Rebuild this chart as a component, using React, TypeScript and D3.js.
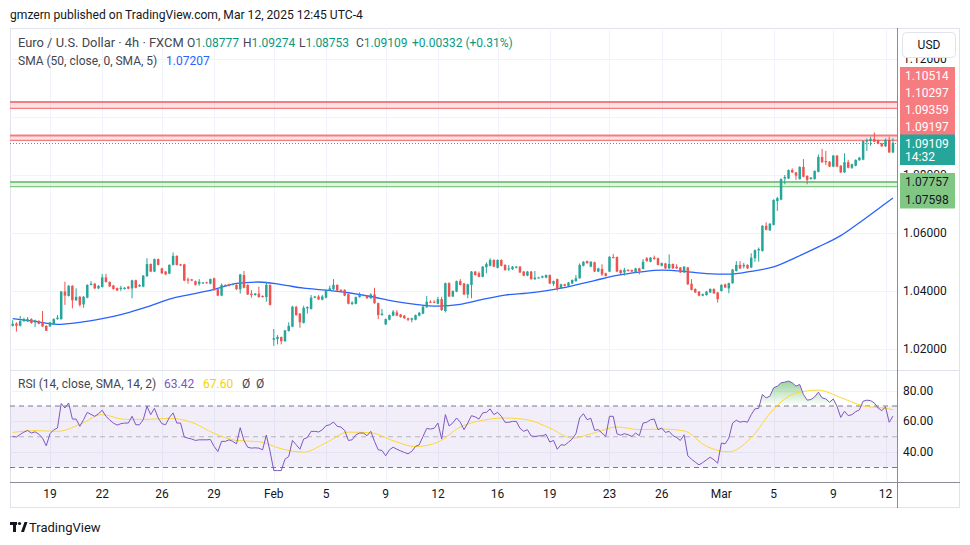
import React from "react";
import * as d3 from "d3";

// ---------- DATA (EUR/USD 4h, FXCM) ----------
// Each bar: [open, high, low, close]; one array per trading week.
const wkJan16 = [
  [1.0280, 1.0299, 1.0278, 1.0287], [1.0288, 1.0292, 1.0260, 1.0280], [1.0280, 1.0314, 1.0278, 1.0296],
  [1.0296, 1.0308, 1.0294, 1.0303], [1.0295, 1.0310, 1.0294, 1.0303], [1.0303, 1.0306, 1.0287, 1.0290],
  [1.0292, 1.0301, 1.0276, 1.0299], [1.0297, 1.0299, 1.0285, 1.0287], [1.0292, 1.0331, 1.0276, 1.0278],
  [1.0280, 1.0282, 1.0262, 1.0263],
];
const wkJan19 = [
  [1.0278, 1.0294, 1.0276, 1.0292], [1.0285, 1.0306, 1.0283, 1.0303], [1.0303, 1.0317, 1.0301, 1.0308],
  [1.0303, 1.0400, 1.0301, 1.0398], [1.0398, 1.0432, 1.0352, 1.0384], [1.0383, 1.0420, 1.0381, 1.0418],
  [1.0418, 1.0420, 1.0340, 1.0368], [1.0368, 1.0409, 1.0366, 1.0380], [1.0380, 1.0383, 1.0346, 1.0352],
  [1.0354, 1.0383, 1.0342, 1.0380], [1.0377, 1.0423, 1.0375, 1.0421], [1.0421, 1.0434, 1.0419, 1.0425],
  [1.0425, 1.0428, 1.0407, 1.0409], [1.0409, 1.0420, 1.0407, 1.0418], [1.0414, 1.0459, 1.0412, 1.0447],
  [1.0447, 1.0459, 1.0429, 1.0431], [1.0431, 1.0433, 1.0414, 1.0416], [1.0419, 1.0421, 1.0405, 1.0407],
  [1.0410, 1.0412, 1.0400, 1.0402], [1.0407, 1.0418, 1.0400, 1.0411], [1.0407, 1.0414, 1.0405, 1.0411],
  [1.0415, 1.0417, 1.0406, 1.0408], [1.0409, 1.0439, 1.0375, 1.0437], [1.0437, 1.0439, 1.0409, 1.0411],
  [1.0416, 1.0423, 1.0414, 1.0421], [1.0415, 1.0455, 1.0413, 1.0453], [1.0451, 1.0513, 1.0449, 1.0493],
  [1.0493, 1.0495, 1.0465, 1.0467], [1.0467, 1.0512, 1.0465, 1.0510], [1.0510, 1.0512, 1.0488, 1.0490],
];
const wkJan26 = [
  [1.0478, 1.0480, 1.0459, 1.0461], [1.0467, 1.0469, 1.0455, 1.0457], [1.0460, 1.0492, 1.0458, 1.0490],
  [1.0490, 1.0533, 1.0488, 1.0521], [1.0521, 1.0523, 1.0488, 1.0490], [1.0492, 1.0494, 1.0486, 1.0488],
  [1.0492, 1.0494, 1.0434, 1.0436], [1.0440, 1.0446, 1.0425, 1.0436], [1.0440, 1.0442, 1.0434, 1.0436],
  [1.0434, 1.0436, 1.0419, 1.0421], [1.0425, 1.0441, 1.0418, 1.0432], [1.0427, 1.0431, 1.0425, 1.0429],
  [1.0430, 1.0432, 1.0426, 1.0428], [1.0425, 1.0443, 1.0423, 1.0441], [1.0444, 1.0446, 1.0401, 1.0403],
  [1.0406, 1.0408, 1.0382, 1.0384], [1.0384, 1.0426, 1.0382, 1.0421], [1.0421, 1.0423, 1.0416, 1.0418],
  [1.0423, 1.0425, 1.0416, 1.0418], [1.0421, 1.0426, 1.0419, 1.0424], [1.0421, 1.0423, 1.0404, 1.0406],
  [1.0406, 1.0459, 1.0391, 1.0457], [1.0455, 1.0469, 1.0409, 1.0411], [1.0421, 1.0423, 1.0386, 1.0388],
  [1.0391, 1.0403, 1.0377, 1.0386], [1.0386, 1.0393, 1.0384, 1.0391], [1.0391, 1.0415, 1.0377, 1.0379],
  [1.0383, 1.0385, 1.0377, 1.0379], [1.0379, 1.0432, 1.0363, 1.0421], [1.0421, 1.0423, 1.0350, 1.0352],
];
const wkFeb02 = [
  [1.0232, 1.0269, 1.0211, 1.0237], [1.0234, 1.0248, 1.0216, 1.0242], [1.0241, 1.0243, 1.0216, 1.0227],
  [1.0227, 1.0266, 1.0225, 1.0264], [1.0262, 1.0292, 1.0260, 1.0280], [1.0277, 1.0349, 1.0275, 1.0346],
  [1.0345, 1.0349, 1.0315, 1.0317], [1.0322, 1.0324, 1.0273, 1.0292], [1.0290, 1.0349, 1.0288, 1.0342],
  [1.0340, 1.0347, 1.0322, 1.0345], [1.0338, 1.0386, 1.0336, 1.0377], [1.0377, 1.0383, 1.0375, 1.0381],
  [1.0381, 1.0386, 1.0369, 1.0371], [1.0370, 1.0386, 1.0368, 1.0381], [1.0377, 1.0405, 1.0375, 1.0403],
  [1.0402, 1.0418, 1.0400, 1.0409], [1.0406, 1.0441, 1.0404, 1.0421], [1.0421, 1.0423, 1.0400, 1.0402],
  [1.0404, 1.0406, 1.0398, 1.0400], [1.0404, 1.0406, 1.0382, 1.0384], [1.0389, 1.0391, 1.0354, 1.0356],
  [1.0355, 1.0365, 1.0352, 1.0360], [1.0356, 1.0381, 1.0354, 1.0379], [1.0379, 1.0395, 1.0377, 1.0386],
  [1.0384, 1.0388, 1.0382, 1.0386], [1.0384, 1.0386, 1.0373, 1.0375], [1.0375, 1.0392, 1.0373, 1.0388],
  [1.0388, 1.0411, 1.0356, 1.0358], [1.0358, 1.0360, 1.0303, 1.0317], [1.0317, 1.0338, 1.0315, 1.0322],
];
const wkFeb09 = [
  [1.0285, 1.0305, 1.0283, 1.0303], [1.0301, 1.0319, 1.0299, 1.0317], [1.0315, 1.0334, 1.0313, 1.0329],
  [1.0326, 1.0334, 1.0313, 1.0315], [1.0319, 1.0321, 1.0308, 1.0310], [1.0315, 1.0317, 1.0304, 1.0306],
  [1.0306, 1.0308, 1.0296, 1.0301], [1.0301, 1.0308, 1.0292, 1.0306], [1.0301, 1.0319, 1.0299, 1.0317],
  [1.0315, 1.0327, 1.0313, 1.0325], [1.0322, 1.0348, 1.0320, 1.0346], [1.0344, 1.0383, 1.0342, 1.0363],
  [1.0363, 1.0368, 1.0358, 1.0360], [1.0363, 1.0368, 1.0358, 1.0360], [1.0356, 1.0380, 1.0354, 1.0372],
  [1.0372, 1.0380, 1.0332, 1.0334], [1.0331, 1.0429, 1.0326, 1.0427], [1.0427, 1.0430, 1.0379, 1.0381],
  [1.0381, 1.0402, 1.0379, 1.0400], [1.0398, 1.0436, 1.0396, 1.0434], [1.0434, 1.0441, 1.0419, 1.0421],
  [1.0426, 1.0428, 1.0386, 1.0388], [1.0388, 1.0425, 1.0375, 1.0423], [1.0421, 1.0469, 1.0375, 1.0467],
  [1.0467, 1.0469, 1.0453, 1.0455], [1.0461, 1.0467, 1.0447, 1.0449], [1.0449, 1.0486, 1.0447, 1.0484],
  [1.0482, 1.0499, 1.0461, 1.0493], [1.0487, 1.0513, 1.0485, 1.0507], [1.0507, 1.0509, 1.0482, 1.0484],
];
const wkFeb16 = [
  [1.0480, 1.0509, 1.0478, 1.0507], [1.0507, 1.0509, 1.0485, 1.0487], [1.0490, 1.0492, 1.0470, 1.0472],
  [1.0475, 1.0490, 1.0469, 1.0478], [1.0475, 1.0486, 1.0473, 1.0484], [1.0480, 1.0486, 1.0478, 1.0484],
  [1.0484, 1.0486, 1.0462, 1.0464], [1.0467, 1.0469, 1.0451, 1.0453], [1.0453, 1.0469, 1.0451, 1.0467],
  [1.0467, 1.0469, 1.0439, 1.0441], [1.0441, 1.0469, 1.0438, 1.0446], [1.0445, 1.0449, 1.0443, 1.0447],
  [1.0446, 1.0453, 1.0444, 1.0451], [1.0446, 1.0457, 1.0444, 1.0455], [1.0455, 1.0457, 1.0424, 1.0426],
  [1.0425, 1.0436, 1.0418, 1.0434], [1.0441, 1.0443, 1.0401, 1.0407], [1.0409, 1.0425, 1.0407, 1.0423],
  [1.0423, 1.0425, 1.0416, 1.0418], [1.0418, 1.0431, 1.0416, 1.0429], [1.0426, 1.0440, 1.0424, 1.0438],
  [1.0434, 1.0455, 1.0432, 1.0444], [1.0444, 1.0495, 1.0442, 1.0490], [1.0487, 1.0503, 1.0485, 1.0501],
  [1.0503, 1.0505, 1.0494, 1.0496], [1.0484, 1.0503, 1.0482, 1.0501], [1.0499, 1.0501, 1.0465, 1.0467],
  [1.0467, 1.0480, 1.0465, 1.0478], [1.0476, 1.0492, 1.0452, 1.0457], [1.0461, 1.0463, 1.0450, 1.0452],
];
const wkFeb23 = [
  [1.0467, 1.0520, 1.0465, 1.0518], [1.0517, 1.0528, 1.0512, 1.0514], [1.0517, 1.0519, 1.0465, 1.0467],
  [1.0472, 1.0474, 1.0459, 1.0461], [1.0464, 1.0480, 1.0453, 1.0473], [1.0473, 1.0475, 1.0467, 1.0469],
  [1.0472, 1.0474, 1.0465, 1.0467], [1.0464, 1.0480, 1.0462, 1.0478], [1.0478, 1.0480, 1.0457, 1.0469],
  [1.0476, 1.0510, 1.0474, 1.0501], [1.0513, 1.0517, 1.0501, 1.0503], [1.0501, 1.0517, 1.0499, 1.0515],
  [1.0515, 1.0522, 1.0508, 1.0510], [1.0513, 1.0515, 1.0488, 1.0490], [1.0487, 1.0498, 1.0485, 1.0496],
  [1.0495, 1.0497, 1.0476, 1.0478], [1.0478, 1.0526, 1.0476, 1.0493], [1.0493, 1.0495, 1.0476, 1.0478],
  [1.0484, 1.0492, 1.0476, 1.0478], [1.0481, 1.0483, 1.0462, 1.0464], [1.0464, 1.0486, 1.0462, 1.0484],
  [1.0481, 1.0483, 1.0421, 1.0423], [1.0425, 1.0441, 1.0402, 1.0404], [1.0407, 1.0409, 1.0393, 1.0395],
  [1.0398, 1.0400, 1.0382, 1.0384], [1.0384, 1.0391, 1.0382, 1.0389], [1.0386, 1.0400, 1.0384, 1.0398],
  [1.0395, 1.0409, 1.0393, 1.0407], [1.0407, 1.0409, 1.0390, 1.0392], [1.0395, 1.0397, 1.0360, 1.0372],
];
const wkMar02 = [
  [1.0400, 1.0423, 1.0398, 1.0421], [1.0423, 1.0425, 1.0410, 1.0412], [1.0409, 1.0429, 1.0392, 1.0427],
  [1.0427, 1.0476, 1.0425, 1.0474], [1.0469, 1.0503, 1.0467, 1.0490], [1.0490, 1.0503, 1.0476, 1.0478],
  [1.0485, 1.0497, 1.0478, 1.0490], [1.0490, 1.0492, 1.0476, 1.0478], [1.0481, 1.0530, 1.0479, 1.0515],
  [1.0513, 1.0543, 1.0501, 1.0541], [1.0540, 1.0550, 1.0501, 1.0545], [1.0538, 1.0627, 1.0536, 1.0625],
  [1.0625, 1.0637, 1.0609, 1.0611], [1.0609, 1.0634, 1.0607, 1.0632], [1.0628, 1.0716, 1.0626, 1.0714],
  [1.0710, 1.0725, 1.0676, 1.0720], [1.0715, 1.0788, 1.0713, 1.0786], [1.0788, 1.0800, 1.0768, 1.0793],
  [1.0788, 1.0819, 1.0786, 1.0817], [1.0817, 1.0823, 1.0807, 1.0809], [1.0809, 1.0811, 1.0783, 1.0798],
  [1.0786, 1.0830, 1.0784, 1.0828], [1.0828, 1.0855, 1.0792, 1.0794], [1.0797, 1.0799, 1.0768, 1.0783],
  [1.0786, 1.0793, 1.0784, 1.0791], [1.0786, 1.0816, 1.0784, 1.0814], [1.0811, 1.0871, 1.0809, 1.0862],
  [1.0862, 1.0890, 1.0842, 1.0844], [1.0848, 1.0883, 1.0834, 1.0844], [1.0846, 1.0848, 1.0827, 1.0829],
];
const wkMar09 = [
  [1.0829, 1.0869, 1.0827, 1.0867], [1.0867, 1.0869, 1.0827, 1.0829], [1.0832, 1.0834, 1.0807, 1.0809],
  [1.0809, 1.0875, 1.0807, 1.0844], [1.0844, 1.0852, 1.0823, 1.0825], [1.0825, 1.0839, 1.0821, 1.0837],
  [1.0832, 1.0854, 1.0830, 1.0852], [1.0851, 1.0862, 1.0849, 1.0860], [1.0853, 1.0919, 1.0851, 1.0917],
  [1.0915, 1.0926, 1.0883, 1.0920], [1.0917, 1.0932, 1.0901, 1.0924], [1.0924, 1.0947, 1.0913, 1.0915],
  [1.0920, 1.0922, 1.0906, 1.0908], [1.0909, 1.0911, 1.0897, 1.0899], [1.0899, 1.0926, 1.0897, 1.0921],
  [1.0921, 1.0932, 1.0876, 1.0878], [1.08777, 1.09274, 1.08753, 1.09109],
];
const candles = [...wkJan16, ...wkJan19, ...wkJan26, ...wkFeb02, ...wkFeb09, ...wkFeb16, ...wkFeb23, ...wkMar02, ...wkMar09];
const FIRST_BAR = -10; // bar number of the first candle (bar 0 = Sun 19 Jan 17:00)

// SMA(50) sampled every 6 bars (plus the last bar)
const smaBars = [-10, -4, 2, 8, 14, 20, 26, 32, 38, 44, 50, 56, 62, 68, 74, 80, 86, 92, 98, 104, 110, 116, 122, 128,
  134, 140, 146, 152, 158, 164, 170, 176, 182, 188, 194, 200, 206, 212, 218, 224, 226];
const smaValues = [1.0305, 1.0295, 1.0285, 1.0292, 1.0305, 1.0322, 1.0345, 1.0372, 1.0389, 1.0406, 1.0426, 1.0431,
  1.0422, 1.0410, 1.0403, 1.0394, 1.0381, 1.0365, 1.0354, 1.0348, 1.0354, 1.0371, 1.0386, 1.0393, 1.0403, 1.0418,
  1.0436, 1.0454, 1.0465, 1.0472, 1.0468, 1.0460, 1.0458, 1.0468, 1.0483, 1.0516, 1.0552, 1.0591, 1.0645, 1.0702, 1.07207];

// RSI(14), one value per bar
const rsiValues = [
  50.2, 49.8, 51.5, 53.0, 54.1, 52.4, 53.2, 51.7, 49.1, 44.1,
  52.0, 54.5, 55.7, 71.6, 68.7, 72.0, 61.5, 61.5, 56.8, 61.1,
  65.9, 64.5, 63.3, 65.0, 67.2, 63.3, 61.0, 58.9, 57.6, 58.5,
  58.9, 58.9, 63.3, 57.8, 57.8, 61.1, 69.8, 64.4, 68.5, 62.2,
  58.5, 57.8, 62.5, 65.5, 58.9, 58.9, 49.8, 49.1, 48.5, 47.6,
  48.0, 48.0, 48.0, 48.2, 43.7, 40.4, 47.0, 47.0, 48.0, 47.0,
  45.4, 55.9, 47.6, 43.2, 42.6, 42.8, 42.6, 41.5, 51.1, 40.5,
  28.0, 28.0, 28.0, 35.4, 37.1, 47.6, 44.8, 41.9, 48.5, 49.5,
  53.5, 53.5, 53.1, 54.5, 57.2, 57.8, 59.6, 56.8, 56.3, 54.1,
  47.6, 48.0, 51.3, 52.4, 52.4, 50.7, 53.5, 47.0, 41.5, 41.1,
  37.6, 41.5, 43.2, 41.9, 40.8, 39.8, 38.9, 40.5, 43.7, 44.8,
  50.2, 55.4, 55.0, 55.5, 58.9, 48.5, 64.4, 57.0, 59.0, 62.2,
  59.5, 54.6, 58.9, 63.7, 62.9, 61.5, 65.5, 65.9, 68.1, 64.4,
  65.9, 63.3, 59.4, 59.4, 60.0, 60.0, 55.5, 53.5, 54.6, 50.5,
  50.2, 50.5, 50.7, 51.5, 46.5, 47.6, 41.9, 44.8, 44.5, 46.5,
  48.5, 52.0, 62.2, 65.0, 61.1, 62.0, 54.1, 54.6, 52.4, 50.2,
  63.3, 63.3, 52.0, 51.0, 52.0, 51.3, 50.2, 52.4, 50.7, 58.9,
  59.4, 61.1, 61.5, 54.6, 55.7, 52.8, 53.5, 50.7, 49.5, 47.6,
  51.3, 37.6, 35.4, 33.5, 31.7, 33.2, 35.0, 36.7, 35.0, 32.8,
  45.9, 45.4, 49.1, 58.9, 60.7, 59.5, 60.0, 59.5, 64.4, 68.1,
  68.5, 77.5, 75.3, 76.4, 81.8, 82.9, 85.1, 85.5, 86.2, 85.1,
  82.9, 84.0, 77.5, 73.8, 74.2, 75.9, 79.0, 75.3, 74.6, 72.4,
  74.6, 69.8, 62.6, 66.6, 63.7, 64.4, 66.3, 67.5, 73.1, 73.8,
  73.5, 72.0, 68.7, 67.0, 69.4, 59.4, 63.42,
];
// RSI-based SMA(14), sampled at smaBars
const rsiSignal = [52.8, 54.0, 53.5, 58.0, 64.4, 61.3, 61.3, 62.0, 59.4, 52.2, 47.6, 46.8, 42.2, 40.0, 46.1, 53.0,
  52.6, 47.4, 43.6, 46.5, 56.3, 60.7, 62.2, 61.0, 55.7, 49.1, 52.6, 56.4, 54.6, 55.0, 53.8, 43.8, 40.2, 49.4, 68.0,
  78.4, 80.3, 75.5, 70.1, 68.5, 67.6];

const timeTickBars = [0, 14, 30, 44, 60, 74, 90, 104, 120, 134, 150, 164, 180, 194, 210, 224];
const timeTickLabels = ["19", "22", "26", "29", "Feb", "5", "9", "12", "16", "19", "23", "26", "Mar", "5", "9", "12"];
const priceTicks = [1.02, 1.04, 1.06, 1.08, 1.10, 1.12];
const rsiTicks = [40, 60, 80];
const resistanceZones = [[1.10514, 1.10297], [1.09359, 1.09197]];
const supportZones = [[1.07757, 1.07598]];
const lastPrice = 1.09109;
const countdown = "14:32";

// ---------- LAYOUT ----------
const W = 970, H = 545;
const L = 10, PR = 897, FR = 960;
const TOP = 28, SEP = 370, RB = 482, BOT = 508;
const UP = "#26a69a", DOWN = "#ef5350";
const FONT = "Roboto, 'Noto Sans', sans-serif";
const TXT = "#131722", GRID = "#f0f3fa";
// price-axis badge blocks (label stacks)
const RED_TOP = 67, RED_H = 17, TEAL_TOP = 134.5, TEAL_BOT = 165, GREEN_TOP = 173, GREEN_H = 17.5;

export default function App() {
  const x = d3.scaleLinear().domain([0, 224]).range([50, 885.5]);
  const y = d3.scaleLinear().domain([1.02, 1.12]).range([349, 59]);
  const yr = d3.scaleLinear().domain([30, 70]).range([467.5, 406]);
  const bx = (i: number) => x(FIRST_BAR + i);

  const smaPath = d3.line<number>().x((_, i) => x(smaBars[i])).y((d) => y(d)).curve(d3.curveMonotoneX)(smaValues) || "";
  const rsiPath = d3.line<number>().x((_, i) => bx(i)).y((d) => yr(d))(rsiValues) || "";
  const sigPath = d3.line<number>().x((_, i) => x(smaBars[i])).y((d) => yr(d)).curve(d3.curveMonotoneX)(rsiSignal) || "";
  const obArea = d3.area<number>().x((_, i) => bx(i)).y0(yr(70)).y1((d) => yr(d))(rsiValues) || "";
  const osArea = d3.area<number>().x((_, i) => bx(i)).y0(yr(30)).y1((d) => yr(d))(rsiValues) || "";

  const bodyW = 2.5;
  const redEnd = RED_TOP + RED_H * 4;
  const greenEnd = GREEN_TOP + GREEN_H * 2;
  // axis labels whose centre is fully covered by a badge block are not shown (as in the reference)
  const visiblePriceTicks = priceTicks.filter((p) => {
    const c = y(p);
    return !(c > RED_TOP && c < redEnd) && !(c > TEAL_TOP && c < TEAL_BOT);
  });

  return (
    <svg width={W} height={H} style={{ position: "absolute", left: 0, top: 0, background: "#fff" }} fontFamily={FONT}>
      <defs>
        <clipPath id="pricePane"><rect x={L} y={TOP} width={PR - L} height={SEP - TOP} /></clipPath>
        <clipPath id="rsiPane"><rect x={L} y={SEP} width={PR - L} height={RB - SEP} /></clipPath>
        <clipPath id="above70"><rect x={L} y={SEP} width={PR - L} height={yr(70) - SEP} /></clipPath>
        <clipPath id="below30"><rect x={L} y={yr(30)} width={PR - L} height={RB - yr(30)} /></clipPath>
        <clipPath id="axisFree">
          <rect x={898} y={57} width={62} height={RED_TOP - 57} />
          <rect x={898} y={TEAL_BOT} width={62} height={GREEN_TOP - TEAL_BOT} />
          <rect x={898} y={greenEnd} width={62} height={SEP - greenEnd} />
        </clipPath>
        <linearGradient id="obGrad" gradientUnits="userSpaceOnUse" x1="0" y1={yr(95)} x2="0" y2={yr(70)}>
          <stop offset="0" stopColor="#4caf50" stopOpacity="0.85" />
          <stop offset="1" stopColor="#4caf50" stopOpacity="0" />
        </linearGradient>
        <linearGradient id="osGrad" gradientUnits="userSpaceOnUse" x1="0" y1={yr(30)} x2="0" y2={yr(5)}>
          <stop offset="0" stopColor="#f23645" stopOpacity="0" />
          <stop offset="1" stopColor="#f23645" stopOpacity="0.85" />
        </linearGradient>
      </defs>
      <rect x={0} y={0} width={W} height={H} fill="#fff" />

      {/* published header */}
      <text x={10} y={19} fontSize={12.1} fill={TXT}>gmzern published on TradingView.com, Mar 12, 2025 12:45 UTC-4</text>

      {/* frame */}
      <rect x={L + 0.5} y={TOP + 0.5} width={FR - L - 1} height={BOT - TOP - 1} fill="none" stroke="#e0e3eb" />

      {/* grid */}
      <g stroke={GRID} strokeWidth={1}>
        {timeTickBars.map((b, i) => (
          <line key={"vg" + i} x1={Math.round(x(b)) + 0.5} x2={Math.round(x(b)) + 0.5} y1={TOP} y2={RB} />
        ))}
        {priceTicks.map((p, i) => (
          <line key={"hg" + i} x1={L} x2={PR} y1={Math.round(y(p)) + 0.5} y2={Math.round(y(p)) + 0.5} />
        ))}
        {rsiTicks.map((r, i) => (
          <line key={"rg" + i} x1={L} x2={PR} y1={Math.round(yr(r)) + 0.5} y2={Math.round(yr(r)) + 0.5} />
        ))}
      </g>

      {/* price pane */}
      <g clipPath="url(#pricePane)">
        {resistanceZones.map((z, i) => (
          <g key={"rz" + i}>
            <rect x={L} y={y(z[0])} width={PR - L} height={y(z[1]) - y(z[0])} fill="#f77c80" fillOpacity={0.22} />
            <line x1={L} x2={PR} y1={y(z[0])} y2={y(z[0])} stroke="#f77c80" strokeWidth={2} />
            <line x1={L} x2={PR} y1={y(z[1])} y2={y(z[1])} stroke="#f77c80" strokeWidth={1.3} />
          </g>
        ))}
        {supportZones.map((z, i) => (
          <g key={"sz" + i}>
            <rect x={L} y={y(z[0])} width={PR - L} height={y(z[1]) - y(z[0])} fill="#81c784" fillOpacity={0.22} />
            <line x1={L} x2={PR} y1={y(z[0])} y2={y(z[0])} stroke="#81c784" strokeWidth={2} />
            <line x1={L} x2={PR} y1={y(z[1])} y2={y(z[1])} stroke="#81c784" strokeWidth={1.3} />
          </g>
        ))}
        <line x1={L} x2={PR} y1={Math.round(y(lastPrice)) + 0.5} y2={Math.round(y(lastPrice)) + 0.5}
          stroke={UP} strokeWidth={1} strokeDasharray="1,2" />
        <path d={smaPath} fill="none" stroke="#2962ff" strokeWidth={1.3} />
        {candles.map((c, i) => {
          const [o, h, l, cl] = c;
          const cx = bx(i);
          const col = cl >= o ? UP : DOWN;
          const top = y(Math.max(o, cl));
          const bh = Math.max(1, y(Math.min(o, cl)) - top);
          return (
            <g key={"c" + i}>
              <line x1={cx} x2={cx} y1={y(h)} y2={y(l)} stroke={col} strokeWidth={1} />
              <rect x={cx - bodyW / 2} y={top} width={bodyW} height={bh} fill={col} />
            </g>
          );
        })}
      </g>

      {/* legends */}
      <text y={47} fontSize={12} fill="#434651">
        <tspan x={18} fontSize={12.9}>Euro / U.S. Dollar · 4h · FXCM</tspan>
        <tspan x={187}>O</tspan><tspan fill="#089981">1.08777</tspan>
        <tspan x={243}>H</tspan><tspan fill="#089981">1.09274</tspan>
        <tspan x={299}>L</tspan><tspan fill="#089981">1.08753</tspan>
        <tspan x={356}>C</tspan><tspan fill="#089981">1.09109</tspan>
        <tspan x={412} fill="#089981">+0.00332 (+0.31%)</tspan>
      </text>
      <text y={65} fontSize={12} fill="#434651">
        <tspan x={18}>SMA (50, close, 0, SMA, 5)</tspan>
        <tspan x={166} fill="#2962ff">1.07207</tspan>
      </text>

      {/* RSI pane */}
      <line x1={L} x2={FR} y1={SEP + 0.5} y2={SEP + 0.5} stroke="#e0e3eb" />
      <rect x={L} y={yr(70)} width={PR - L} height={yr(30) - yr(70)} fill="#7e57c2" fillOpacity={0.1} />
      <g clipPath="url(#rsiPane)">
        <path d={obArea} fill="url(#obGrad)" clipPath="url(#above70)" />
        <path d={osArea} fill="url(#osGrad)" clipPath="url(#below30)" />
        <line x1={L} x2={PR} y1={yr(70)} y2={yr(70)} stroke="#787b86" strokeDasharray="5,4" />
        <line x1={L} x2={PR} y1={yr(50)} y2={yr(50)} stroke="#787b86" strokeOpacity={0.5} strokeDasharray="5,4" />
        <line x1={L} x2={PR} y1={yr(30)} y2={yr(30)} stroke="#787b86" strokeDasharray="5,4" />
        <path d={sigPath} fill="none" stroke="#fdd835" strokeWidth={1} />
        <path d={rsiPath} fill="none" stroke="#7e57c2" strokeWidth={1} />
      </g>
      <text y={388} fontSize={12} fill="#434651">
        <tspan x={18}>RSI (14, close, SMA, 14, 2)</tspan>
        <tspan x={164} fill="#7e57c2">63.42</tspan>
        <tspan x={203} fill="#f5d300">67.60</tspan>
        <tspan x={242}>Ø</tspan>
        <tspan x={256}>Ø</tspan>
      </text>

      {/* axes lines */}
      <line x1={L} x2={FR} y1={RB + 0.5} y2={RB + 0.5} stroke="#8a8d96" />
      <line x1={PR + 0.5} x2={PR + 0.5} y1={TOP} y2={BOT} stroke="#8a8d96" />

      {/* time axis */}
      {timeTickBars.map((b, i) => (
        <text key={"tl" + i} x={x(b)} y={498} fontSize={12} fill={TXT} textAnchor="middle">{timeTickLabels[i]}</text>
      ))}

      {/* price axis */}
      <g clipPath="url(#axisFree)">
        {visiblePriceTicks.map((p, i) => (
          <text key={"pl" + i} x={903} y={y(p) + 4} fontSize={12} fill={TXT}>{p.toFixed(5)}</text>
        ))}
      </g>
      {rsiTicks.map((r, i) => (
        <text key={"rl" + i} x={903} y={yr(r) + 4} fontSize={12} fill={TXT}>{r.toFixed(2)}</text>
      ))}
      <rect x={902.5} y={32.5} width={53} height={25} rx={4} fill="#fff" stroke="#e0e3eb" />
      <text x={929} y={49} fontSize={12} fill={TXT} textAnchor="middle">USD</text>

      {/* price labels */}
      {resistanceZones.flat().map((p, i) => (
        <g key={"rb" + i}>
          <rect x={900} y={RED_TOP + i * RED_H} width={55} height={RED_H + 0.5} fill="#f77c80" />
          <text x={905} y={RED_TOP + i * RED_H + 13} fontSize={12} fill="#fff">{p.toFixed(5)}</text>
        </g>
      ))}
      <rect x={900} y={TEAL_TOP} width={55} height={TEAL_BOT - TEAL_TOP} fill={UP} />
      <text x={905} y={147.5} fontSize={12} fill="#fff">{lastPrice.toFixed(5)}</text>
      <text x={905} y={161} fontSize={12} fill="#fff">{countdown}</text>
      {supportZones.flat().map((p, i) => (
        <g key={"gb" + i}>
          <rect x={900} y={GREEN_TOP + i * GREEN_H} width={55} height={GREEN_H + 0.5} fill="#81c784" />
          <text x={905} y={GREEN_TOP + i * GREEN_H + 13} fontSize={12} fill={TXT}>{p.toFixed(5)}</text>
        </g>
      ))}

      {/* TradingView logo */}
      <g fill={TXT}>
        <rect x={10} y={522} width={7} height={3} />
        <rect x={13} y={522} width={3} height={10} />
        <circle cx={19.5} cy={523.5} r={1.6} />
        <path d="M21 532 L24.5 522 L27.5 522 L24 532 Z" />
      </g>
      <text x={29} y={532} fontSize={13} fill={TXT}>TradingView</text>
    </svg>
  );
}
